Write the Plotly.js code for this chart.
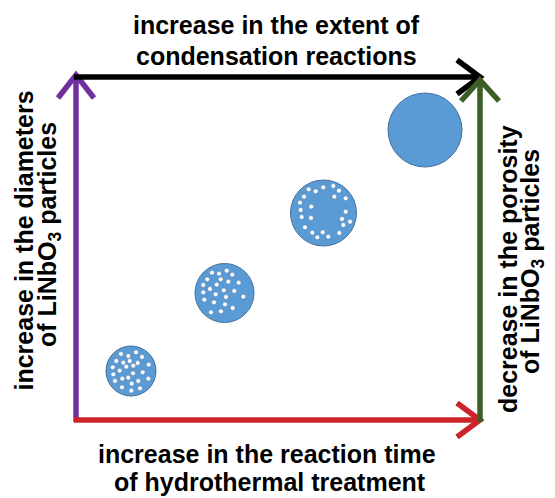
<!DOCTYPE html>
<html>
<head>
<meta charset="utf-8">
<script src="https://cdn.plot.ly/plotly-3.0.1.min.js"></script>
<style>html,body{margin:0;padding:0;background:#fff;}#chart{width:555px;height:498px;}</style>
</head>
<body>
<div id="chart"></div>
<script>
// ---- Data (diagram coordinates in a 555 x 498 frame, y downward) ----
// Particles: centre x, centre y, radius
var particleX = [131, 224.5, 323.5, 425];
var particleY = [371, 293, 213, 130];
var particleR = [25, 29.5, 33, 37];

// Pores inside particles
var pores1X = [121,128.3,136,142,116.3,123.3,129.7,137.7,148.7,112.7,119.7,126.3,133.3,142.7,113.3,122.3,128.3,133,138.3,148.3,115,131.7,122,131.3,140];
var pores1Y = [354,356,352.3,357,361,362.7,361,363,364.7,367.3,370.7,366.7,365.7,372.3,374.3,378.7,377.7,373.3,381,378.7,381,383.7,387.3,390.7,388.3];
var pores2X = [212,219,226.7,232.3,207.3,220.7,228.3,238.7,203.3,216.7,210,223.7,234.3,203.3,215.7,226,243.3,204.3,214,225,232.7,211,221];
var pores2Y = [272.7,273.7,270.7,274.7,279.3,279.3,281.7,282.7,285,284.7,289,290.3,291,292.3,294.3,297,296.7,299.7,302.3,304.3,308,312.3,311.3];
var pores3X = [308.7,315.7,323.3,333.3,339,304,334.3,345.7,300,311.3,300.7,345.7,301.7,311,342,350,305,343.3,312.3,322.7,339.3,317.3,328.3];
var pores3Y = [189.3,191.3,187.3,186,190.7,196.7,196.7,198.3,202.7,206.7,210,211.7,217,218,219,221.7,227.3,225,232.7,232.3,233,237.3,236.7];

// Arrows: shaft start, tip, and the two arm ends of the open arrowhead
var arrowNames  = ['diameter', 'condensation', 'time', 'porosity'];
var arrowColors = ['#7030a0', '#000000', '#cc2229', '#3b5e25'];
var arrowStartX = [76, 74, 74, 480];
var arrowStartY = [422, 77, 420, 422];
var arrowTipX   = [76, 480, 480, 480];
var arrowTipY   = [75, 77, 420, 80];
var arm1X = [58, 457, 457, 461];
var arm1Y = [98, 60, 403, 101];
var arm2X = [94, 457, 457, 499];
var arm2Y = [98, 94, 437, 101];

// Text labels
var topLines    = ['increase in the extent of', 'condensation reactions'];
var bottomLines = ['increase in the reaction time', 'of hydrothermal treatment'];
var leftLines   = ['increase in the diameters', 'of LiNbO<sub>3</sub> particles'];
var rightLines  = ['decrease in the porosity', 'of LiNbO<sub>3</sub> particles'];

// ---- Build traces ----
var traces = [];
for (var i = 0; i < arrowNames.length; i++) {
  traces.push({
    type: 'scatter', mode: 'lines', hoverinfo: 'skip', showlegend: false,
    x: [arrowStartX[i], arrowTipX[i], null, arm1X[i], arrowTipX[i], arm2X[i]],
    y: [arrowStartY[i], arrowTipY[i], null, arm1Y[i], arrowTipY[i], arm2Y[i]],
    line: {color: arrowColors[i], width: 5.5},
    connectgaps: false
  });
}
traces.push({
  type: 'scatter', mode: 'markers', hoverinfo: 'skip', showlegend: false,
  x: particleX, y: particleY,
  marker: {size: particleR.map(function (r) { return 2 * r; }), color: '#5b9bd5', opacity: 1,
           line: {color: '#41719c', width: 1}}
});
[[pores1X, pores1Y], [pores2X, pores2Y], [pores3X, pores3Y]].forEach(function (p) {
  traces.push({
    type: 'scatter', mode: 'markers', hoverinfo: 'skip', showlegend: false,
    x: p[0], y: p[1],
    marker: {size: 4.8, color: '#ffffff', opacity: 1, line: {color: '#4a78a8', width: 0.5}}
  });
});

var font = {family: 'Liberation Sans, Arial, sans-serif', size: 25, color: '#000'};
var ann = [];
function add(txt, x, y, angle) {
  ann.push({text: '<b>' + txt + '</b>', x: x, y: y, xref: 'x', yref: 'y',
            showarrow: false, xanchor: 'center', yanchor: 'middle',
            textangle: angle, font: font});
}
add(topLines[0], 276, 25, 0);
add(topLines[1], 276.5, 56, 0);
add(bottomLines[0], 267, 454, 0);
add(bottomLines[1], 270, 482, 0);
add(leftLines[0], 23, 240.5, -90);
add(leftLines[1], 49, 235, -90);
add(rightLines[0], 508, 269, -90);
add(rightLines[1], 532, 262, -90);

var layout = {
  width: 555, height: 498,
  margin: {l: 0, r: 0, t: 0, b: 0, pad: 0},
  paper_bgcolor: '#fff', plot_bgcolor: '#fff',
  xaxis: {range: [0, 555], visible: false, fixedrange: true},
  yaxis: {range: [498, 0], visible: false, fixedrange: true},
  annotations: ann,
  showlegend: false
};
Plotly.newPlot('chart', traces, layout, {displayModeBar: false, staticPlot: true});
</script>
</body>
</html>
